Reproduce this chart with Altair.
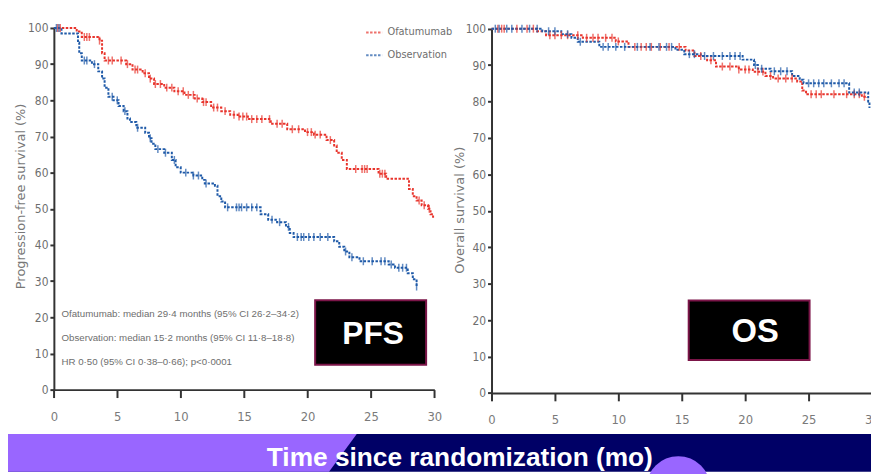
import altair as alt
import pandas as pd
import math

# ---------------- data ----------------
ARMS = ["Ofatumumab", "Observation"]
ARM_COLORS = ["#e8342c", "#1f5aa8"]

X_TICKS = [0, 5, 10, 15, 20, 25, 30]
Y_TICKS = [0, 10, 20, 30, 40, 50, 60, 70, 80, 90, 100]

# Progression-free survival, Ofatumumab
pfs_ofa_t = [0, 1.8, 2.2, 3.6, 3.8, 4.0, 5.7, 6.2, 7.0, 7.5, 7.9, 8.7, 9.5, 10.3, 11.1, 11.7,
             12.4, 13.2, 13.9, 14.5, 15.3, 17.1, 18.4, 19.8, 20.5, 21.5, 22.1, 22.3, 22.7, 23.1,
             25.6, 26.2, 28.0, 28.3, 28.6, 29.0, 29.5, 29.7, 29.9]
pfs_ofa_s = [100, 99, 97.5, 96.5, 93, 91, 90, 88.5, 87.5, 86, 84.5, 83.5, 82.5, 81.5, 80.5, 79.5,
             78, 77, 76, 75.5, 74.8, 73.5, 72, 71.2, 70.5, 69, 67.5, 65.5, 63.5, 61,
             59.7, 58.3, 55.5, 53.5, 52.3, 51, 50, 48.5, 47.5]
pfs_ofa_cens = [0.3, 0.5, 2.4, 2.6, 2.8, 3.6, 4.3, 4.6, 5.3, 5.8, 6.4, 6.6, 7.2, 7.6, 8.0, 8.4,
                8.9, 9.3, 9.8, 10.2, 10.6, 11.0, 11.3, 11.8, 12.0, 12.6, 12.9, 13.5, 14.2, 14.6,
                14.9, 15.2, 15.6, 16.0, 16.4, 17.0, 17.6, 18.0, 18.8, 19.3, 20.0, 20.3, 20.6,
                21.0, 21.8, 23.8, 24.3, 24.5, 24.7, 25.7, 25.9, 26.1, 28.8, 29.2, 29.6]

# Progression-free survival, Observation
pfs_obs_t = [0, 0.6, 1.9, 2.0, 2.2, 3.0, 3.5, 3.8, 4.0, 4.3, 4.7, 5.1, 5.5, 5.8, 6.0, 6.5, 7.2,
             7.5, 7.7, 8.0, 8.7, 9.3, 9.6, 10.0, 11.0, 11.7, 11.9, 12.7, 12.9, 13.2, 13.5, 16.3,
             16.9, 17.6, 18.3, 18.6, 18.9, 22.1, 22.5, 22.9, 23.3, 24.1, 26.4, 26.9, 27.9, 28.3,
             28.6]
pfs_obs_s = [100, 98.5, 96, 93, 91, 90, 88, 86, 83.5, 81, 80, 78.4, 77, 75, 74, 72.4, 71,
             69.5, 68, 66.5, 65.5, 63.5, 61.5, 60, 59.2, 58, 57, 56.4, 53.5, 52, 50.4, 48.5,
             47, 46.3, 45, 43.3, 42.2, 41, 39.5, 38.2, 36.6, 35.5, 34.6, 33.7, 32.2, 30.5,
             28.5]
pfs_obs_cens = [0.2, 0.4, 2.4, 2.6, 3.2, 4.6, 5.0, 5.6, 6.6, 7.6, 8.2, 8.8, 9.5, 10.4, 11.0,
                11.4, 12.0, 13.7, 14.4, 14.6, 14.8, 15.2, 15.6, 16.0, 17.2, 17.8, 18.5, 19.2,
                19.5, 19.7, 20.1, 20.5, 21.0, 21.6, 23.0, 23.5, 24.4, 25.1, 25.8, 26.1, 26.6,
                27.2, 27.5, 27.8, 28.6]

# Overall survival, Ofatumumab
os_ofa_t = [0, 3.6, 4.3, 7.2, 9.8, 10.8, 15.3, 16.0, 17.0, 17.7, 19.5, 20.6, 21.6, 22.2, 24.1,
            24.5, 24.8, 29.2, 29.6]
os_ofa_s = [100, 99.3, 98.2, 97.5, 96.5, 95, 94, 92.5, 91.3, 89.6, 88.8, 88.2, 87, 86.3, 85.5,
            83, 82, 81.3, 81]
os_ofa_cens = [0.5, 0.8, 1.0, 2.0, 2.8, 3.3, 4.6, 5.0, 5.5, 6.0, 6.8, 7.5, 8.0, 8.4, 9.0, 9.5,
               10.0, 11.3, 11.8, 12.2, 12.6, 13.3, 14.0, 14.8, 16.5, 17.3, 18.2, 18.8, 19.5,
               20.0, 20.3, 21.0, 21.4, 22.0, 22.6, 23.2, 23.7, 25.2, 25.6, 26.0, 27.0, 28.0,
               28.6, 29.0, 29.4]

# Overall survival, Observation
os_obs_t = [0, 4.0, 5.5, 6.3, 6.8, 8.5, 14.5, 15.2, 16.5, 19.8, 20.7, 21.0, 22.0, 23.7, 24.3,
            24.6, 28.2, 29.7, 29.8]
os_obs_s = [100, 99.3, 98.5, 97.5, 96.4, 95, 94.2, 93, 92.5, 91.5, 90, 89, 88.3, 87, 86, 85,
            82.5, 80, 78.2]
os_obs_cens = [0.3, 0.6, 1.2, 1.6, 2.4, 3.0, 3.6, 4.5, 5.0, 6.0, 7.0, 8.8, 9.2, 9.8, 10.5,
               11.5, 12.5, 13.2, 13.8, 14.2, 15.6, 16.0, 16.8, 17.5, 18.2, 18.8, 19.2, 19.6,
               20.8, 21.3, 22.3, 22.8, 23.3, 25.0, 25.4, 25.8, 26.2, 26.8, 27.4, 27.8, 28.6,
               29.0]

ANNOT = ["Ofatumumab: median 29·4 months (95% CI 26·2–34·2)",
         "Observation: median 15·2 months (95% CI 11·8–18·8)",
         "HR 0·50 (95% CI 0·38–0·66); p<0·0001"]

# ---------------- styling / layout ----------------
W, H = 871, 466
NAVY = "#000066"
PURPLE = "#9966ff"
NARROW = "Liberation Sans Narrow, DejaVu Sans Condensed, Liberation Sans, sans-serif"
ARIAL = "Liberation Sans, Arial, Helvetica, sans-serif"
LABEL_GREY = "#6e6e6e"
AX_COL = "#333333"


def steps(t, s, arm):
    return pd.DataFrame({"t": [float(v) for v in t], "s": [float(v) for v in s], "arm": arm})


def censored(times, t, s, arm):
    c = pd.DataFrame({"t": sorted(float(v) for v in times)})
    ref = pd.DataFrame({"t": [float(v) for v in t], "s": [float(v) for v in s]})
    out = pd.merge_asof(c, ref, on="t")
    out["arm"] = arm
    return out


color = alt.Color("arm:N",
                  scale=alt.Scale(domain=ARMS, range=ARM_COLORS),
                  legend=alt.Legend(orient="none", legendX=360, legendY=13, title=None,
                                    symbolType="stroke", symbolSize=260, symbolStrokeWidth=2,
                                    symbolDash=[2.5, 1.5], labelFont=NARROW, labelFontSize=11,
                                    labelColor=LABEL_GREY, rowPadding=8, labelOffset=4))


def panel(line_df, cens_df, xr, yr, x_off, y_off):
    xs = alt.Scale(domain=[0, 30], range=xr, nice=False, zero=False)
    ys = alt.Scale(domain=[0, 100], range=yr, nice=False, zero=False)
    xa = alt.Axis(values=X_TICKS, orient="bottom", offset=x_off, title=None, grid=False,
                  domainColor=AX_COL, domainWidth=2, tickColor=AX_COL, tickWidth=2, tickSize=8,
                  labelFont=NARROW, labelFontSize=13, labelColor="#7a7a7a", labelPadding=13,
                  labelFlush=False, labelOverlap=False)
    ya = alt.Axis(values=Y_TICKS, orient="left", offset=y_off, title=None, grid=False,
                  domainColor=AX_COL, domainWidth=2, tickColor=AX_COL, tickWidth=2, tickSize=4,
                  labelFont=NARROW, labelFontSize=12, labelColor=LABEL_GREY, labelPadding=2,
                  labelFlush=False, labelOverlap=False)
    line = alt.Chart(line_df).mark_line(interpolate="step-after", strokeDash=[2.5, 1.5],
                                        strokeWidth=2).encode(
        x=alt.X("t:Q", scale=xs, axis=xa),
        y=alt.Y("s:Q", scale=ys, axis=ya),
        color=color,
        detail="arm:N",
    )
    ticks = alt.Chart(cens_df).mark_tick(orient="vertical", size=8, thickness=1.5).encode(
        x=alt.X("t:Q", scale=xs),
        y=alt.Y("s:Q", scale=ys),
        color=color,
    )
    return alt.layer(line, ticks)


pfs_lines = pd.concat([steps(pfs_ofa_t, pfs_ofa_s, ARMS[0]), steps(pfs_obs_t, pfs_obs_s, ARMS[1])])
pfs_cens = pd.concat([censored(pfs_ofa_cens, pfs_ofa_t, pfs_ofa_s, ARMS[0]),
                      censored(pfs_obs_cens, pfs_obs_t, pfs_obs_s, ARMS[1])])
os_lines = pd.concat([steps(os_ofa_t, os_ofa_s, ARMS[0]), steps(os_obs_t, os_obs_s, ARMS[1])])
os_cens = pd.concat([censored(os_ofa_cens, os_ofa_t, os_ofa_s, ARMS[0]),
                     censored(os_obs_cens, os_obs_t, os_obs_s, ARMS[1])])

pfs_panel = panel(pfs_lines, pfs_cens, [46.3, 430.3], [383, 18], -(H - 383), -46.3)
os_panel = panel(os_lines, os_cens, [488, 872], [386.3, 18.7], -(H - 386.3), -488)

# ---------------- decoration ----------------
bottom_navy = alt.Chart(pd.DataFrame({"a": [0]})).mark_rect(color=NAVY).encode(
    x=alt.value(0), x2=alt.value(W), y=alt.value(427.7), y2=alt.value(H))
purple_shape = pd.DataFrame({"px": [0, 324, 352], "py": [427.7, 427.7, 427.7],
                             "py2": [H, H, 427.7]})
bottom_purple = alt.Chart(purple_shape).mark_area(color=PURPLE, opacity=1).encode(
    x=alt.X("px:Q", scale=None, axis=None),
    y=alt.Y("py:Q", scale=None, axis=None),
    y2="py2:Q")
bubble = alt.Chart(pd.DataFrame({"a": [0]})).mark_circle(
    color=PURPLE, opacity=1, size=math.pi * 36.4 ** 2).encode(
    x=alt.value(676.5), y=alt.value(482.4))


def text(s, x, y, **kw):
    return alt.Chart(pd.DataFrame({"a": [0]})).mark_text(text=s, **kw).encode(
        x=alt.value(x), y=alt.value(y))


annots = [text(s, 54, yy, font=ARIAL, fontSize=9.8, color=LABEL_GREY, align="left",
               baseline="alphabetic")
          for s, yy in zip(ANNOT, [309.5, 333.7, 358.5])]

ytitle_pfs = text("Progression-free survival (%)", 13, 188, font="DejaVu Sans", fontSize=13,
                  color="#777777", angle=270, align="center", baseline="middle")
ytitle_os = text("Overall survival (%)", 456, 202, font="DejaVu Sans", fontSize=13,
                 color="#777777", angle=270, align="center", baseline="middle")


def label_box(x1, x2, y1, y2):
    return alt.Chart(pd.DataFrame({"a": [0]})).mark_rect(
        color="black", stroke="#7b1548", strokeWidth=2).encode(
        x=alt.value(x1), x2=alt.value(x2), y=alt.value(y1), y2=alt.value(y2))


pfs_box = label_box(310, 422, 292.7, 358)
os_box = label_box(687, 809, 293, 353)
pfs_lbl = text("PFS", 368.5, 337, font=ARIAL, fontSize=32, fontWeight="bold", color="white",
               align="center", baseline="alphabetic")
os_lbl = text("OS", 754, 335, font=ARIAL, fontSize=33, fontWeight="bold", color="white",
              align="center", baseline="alphabetic")

xtitle = text("Time since randomization (mo)", 456, 460.5, font=ARIAL, fontSize=26.5,
              fontWeight="bold", color="white", align="center", baseline="alphabetic")

chart = alt.layer(
    bottom_navy, bottom_purple, bubble,
    pfs_panel, os_panel,
    *annots, ytitle_pfs, ytitle_os,
    pfs_box, os_box, pfs_lbl, os_lbl, xtitle,
).resolve_scale(x="independent", y="independent").properties(
    width=W, height=H, autosize=alt.AutoSizeParams(type="none"), padding=0,
    background="white",
).configure_view(stroke=None)

chart.save("out.html", embed_options={"renderer": "svg", "actions": False})
